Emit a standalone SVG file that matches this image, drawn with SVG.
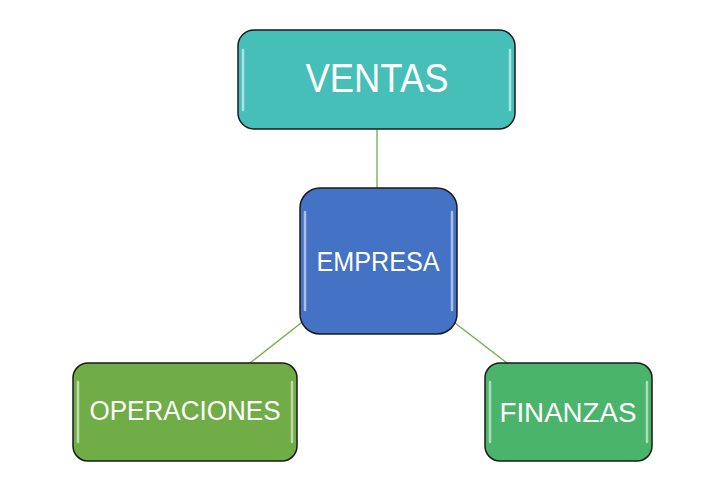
<svg xmlns="http://www.w3.org/2000/svg" width="726" height="495" viewBox="0 0 726 495">
<style>
.box{stroke:#1a1a1a;stroke-width:1.5}
.hl{fill:none;stroke:#ffffff;stroke-opacity:0.55;stroke-width:2.5;stroke-linecap:round}
.lbl{fill:#ffffff;font-family:"Liberation Sans","Open Sans",sans-serif;text-anchor:middle}
.conn{stroke:#70AD47;stroke-width:1.3;fill:none}
</style>
<rect width="726" height="495" fill="#ffffff"/>
<g id="connectors">
<line class="conn" x1="377" y1="129" x2="377" y2="188"/>
<line class="conn" x1="301" y1="323" x2="250" y2="363"/>
<line class="conn" x1="455" y1="323" x2="507" y2="363"/>
</g>
<g id="ventas">
<rect class="box" x="238" y="30" width="277" height="99" rx="16" fill="#47BFB9"/>
<path class="hl" d="M243 50 V110 M510 50 V110"/>
<text class="lbl" x="377" y="92" font-size="40" textLength="143" lengthAdjust="spacingAndGlyphs">VENTAS</text>
</g>
<g id="empresa">
<rect class="box" x="300" y="188" width="157" height="146" rx="20" fill="#4472C4"/>
<path class="hl" d="M305 212 V310 M452 212 V310"/>
<text class="lbl" x="378" y="271" font-size="28" textLength="123" lengthAdjust="spacingAndGlyphs">EMPRESA</text>
</g>
<g id="operaciones">
<rect class="box" x="73" y="363" width="224" height="98" rx="15" fill="#70AD47"/>
<path class="hl" d="M78 382 V442 M292 382 V442"/>
<text class="lbl" x="185" y="420" font-size="27" textLength="191" lengthAdjust="spacingAndGlyphs">OPERACIONES</text>
</g>
<g id="finanzas">
<rect class="box" x="485" y="363" width="167" height="98" rx="15" fill="#4AB46B"/>
<path class="hl" d="M490 382 V442 M647 382 V442"/>
<text class="lbl" x="568" y="422" font-size="27" textLength="137" lengthAdjust="spacingAndGlyphs">FINANZAS</text>
</g>
</svg>
